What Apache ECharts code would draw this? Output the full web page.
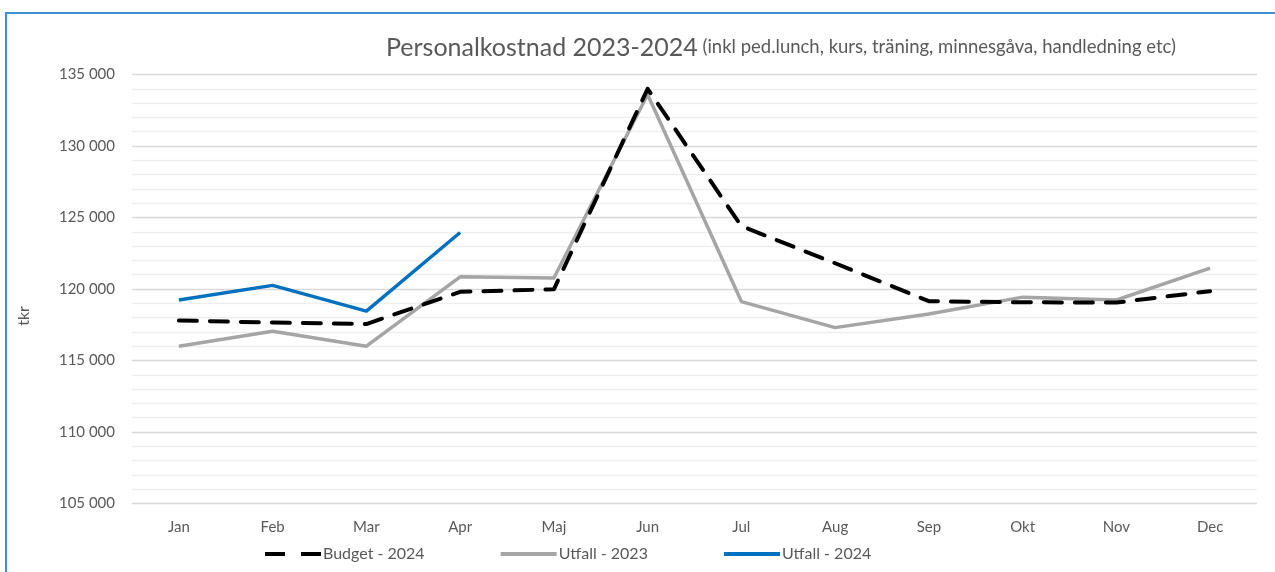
<!DOCTYPE html>
<html>
<head>
<meta charset="utf-8">
<script src="https://cdn.jsdelivr.net/npm/echarts@6/dist/echarts.min.js"></script>
<style>
html,body{margin:0;padding:0;background:#fff;}
#chart{width:1275px;height:572px;}
</style>
</head>
<body>
<div id="chart"></div>
<script>
const months = ['Jan','Feb','Mar','Apr','Maj','Jun','Jul','Aug','Sep','Okt','Nov','Dec'];
const budget2024 = [117800, 117650, 117550, 119800, 119980, 134000, 124400, 121800, 119150, 119070, 119050, 119850];
const utfall2023 = [116000, 117050, 116000, 120850, 120770, 133600, 119120, 117300, 118250, 119430, 119230, 121460];
const utfall2024 = [119230, 120250, 118450, 123950];
const yTicks = [105000, 110000, 115000, 120000, 125000, 130000, 135000];

const FONT = 'Lato, "Open Sans", sans-serif';
const chart = echarts.init(document.getElementById('chart'));
chart.setOption({
  animation: false,
  backgroundColor: '#fff',
  textStyle: { fontFamily: FONT },
  title: {
    text: '{a|Personalkostnad 2023-2024} {b|(inkl ped.lunch, kurs, träning, minnesgåva, handledning etc)}',
    left: 381, top: 30,
    textStyle: {
      fontWeight: 'normal',
      rich: {
        a: { fontSize: 25, color: '#595959', fontFamily: FONT, fontWeight: 'normal' },
        b: { fontSize: 18.5, color: '#595959', fontFamily: FONT, fontWeight: 'normal' }
      }
    }
  },
  grid: { left: 132, right: 18, top: 74.5, bottom: 68.5 },
  legend: {
    bottom: 5, left: 260,
    itemWidth: 56, itemHeight: 4, itemGap: 76,
    textStyle: { fontSize: 16, color: '#595959', fontFamily: FONT, padding: [0, 0, 0, -3] },
    data: [
      { name: 'Budget - 2024', icon: 'path://M0,0 L20,0 L20,4 L0,4 Z M36,0 L56,0 L56,4 L36,4 Z' },
      { name: 'Utfall - 2023', icon: 'rect' },
      { name: 'Utfall - 2024', icon: 'rect' }
    ]
  },
  xAxis: {
    type: 'category', data: months, boundaryGap: true,
    axisLine: { show: false }, axisTick: { show: false },
    axisLabel: { color: '#595959', fontSize: 15, margin: 16, fontFamily: FONT }
  },
  yAxis: {
    type: 'value', min: 105000, max: 135000, interval: 5000,
    axisLine: { show: false }, axisTick: { show: false },
    axisLabel: {
      color: '#595959', fontSize: 15, margin: 17, fontFamily: FONT,
      formatter: v => yTicks.includes(v) ? String(v).replace(/\B(?=(\d{3})+(?!\d))/g, ' ') : ''
    },
    splitLine: { lineStyle: { color: '#d9d9d9', width: 1.3 } },
    minorTick: { show: false, splitNumber: 5 },
    minorSplitLine: { show: true, lineStyle: { color: '#eeeeee', width: 1.3 } }
  },
  graphic: [
    { type: 'rect', shape: { x: 6, y: 13, width: 1300, height: 600 }, style: { fill: 'none', stroke: '#3d8fd6', lineWidth: 2 } },
    { type: 'text', x: 24, y: 316, rotation: Math.PI / 2, style: { text: 'tkr', fill: '#595959', font: '16px ' + FONT, textAlign: 'center', textVerticalAlign: 'middle' } }
  ],
  series: [
    {
      name: 'Budget - 2024', type: 'line', data: budget2024, symbol: 'none',
      lineStyle: { color: '#000', width: 4, type: [18, 13], cap: 'round', join: 'round' },
      itemStyle: { color: '#000' }, z: 3
    },
    {
      name: 'Utfall - 2023', type: 'line', data: utfall2023, symbol: 'none',
      lineStyle: { color: '#a5a5a5', width: 3.5, join: 'round' },
      itemStyle: { color: '#a5a5a5' }, z: 2
    },
    {
      name: 'Utfall - 2024', type: 'line', data: utfall2024, symbol: 'none',
      lineStyle: { color: '#0070c0', width: 3.4, join: 'round' },
      itemStyle: { color: '#0070c0' }, z: 4
    }
  ]
});
</script>
</body>
</html>
